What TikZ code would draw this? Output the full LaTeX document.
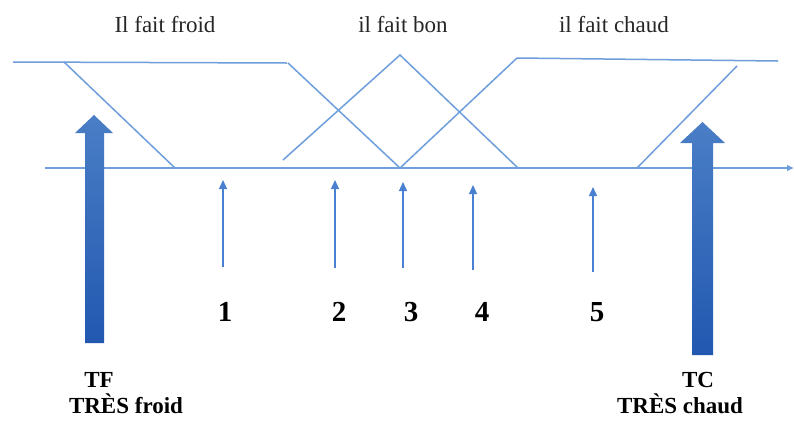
\documentclass[tikz,border=0pt]{standalone}
\usepackage{fontspec}
\setmainfont{Liberation Serif}
\usetikzlibrary{arrows.meta}
\definecolor{ln}{HTML}{6E9EDC}
\definecolor{arr}{HTML}{4A80D2}
\definecolor{bigtop}{HTML}{4A7EC6}
\definecolor{bigbot}{HTML}{2258B0}
\begin{document}
\begin{tikzpicture}[x=1pt,y=-1pt,
  mf/.style={draw=ln,line width=1.5pt},
  small/.style={draw=arr,line width=1.3pt,-{Triangle[width=8pt,length=9pt]}},
  big/.style={top color=bigtop,bottom color=bigbot,draw=none},
  toplbl/.style={font=\fontsize{23}{26}\selectfont,text=black!85},
  num/.style={font=\bfseries\fontsize{29}{32}\selectfont},
  botlbl/.style={font=\bfseries\fontsize{23}{25}\selectfont,align=center,inner sep=0pt}]
\useasboundingbox (0,0) rectangle (794,421);
\fill[white] (0,0) rectangle (794,421);
% axis
\coordinate (axL) at (45,168);
\coordinate (axR) at (794,168);
\draw[draw=ln,line width=1.5pt,-{Latex[length=7pt,width=7pt]}] (axL) -- (axR);
% membership functions
\draw[mf] (13,62) -- (287,63);
\draw[mf] (64,62) -- (175,168);
\draw[mf] (288,63) -- (400,168);
\draw[mf] (283,160) -- (400,55) -- (518,168);
\draw[mf] (400,168) -- (517,58) -- (778,61);
\draw[mf] (637,168) -- (737,66);
% big arrows
\path[big] (85,343) -- (85,133) -- (75,133) -- (94,115) -- (113,133) -- (104,133) -- (104,343) -- cycle;
\path[big] (692,355) -- (692,143) -- (680,143) -- (702.5,122) -- (725,143) -- (713,143) -- (713,355) -- cycle;
% small arrows
\foreach \i/\x/\t/\b in {1/223/180/267, 2/335/180/268, 3/403/182/268, 4/473/185/270, 5/593/187/272}{
  \coordinate (s\i) at (\x,\b);
  \coordinate (e\i) at (\x,\t);
  \draw[small] (s\i) -- (e\i);
}
% numbers
\node[num] (n1) at (225,312) {1};
\node[num] (n2) at (339,312) {2};
\node[num] (n3) at (411,312) {3};
\node[num] (n4) at (482,312) {4};
\node[num] (n5) at (597,312) {5};
% top labels
\node[toplbl] (lf) at (165,25) {Il fait froid};
\node[toplbl] (lb) at (403,25) {il fait bon};
\node[toplbl] (lc) at (614,25) {il fait chaud};
% bottom labels
\node[botlbl] (tf) at (99,380) {TF};
\node[botlbl] (tfl) at (126,404) {TRÈS froid};
\node[botlbl] (tc) at (698,380) {TC};
\node[botlbl] (tcl) at (680,404) {TRÈS chaud};
\end{tikzpicture}
\end{document}
